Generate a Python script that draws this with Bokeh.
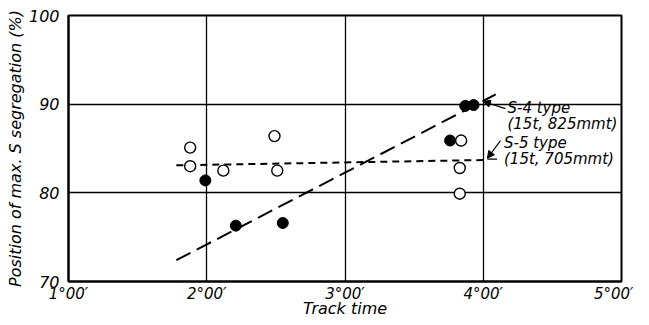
from bokeh.plotting import figure
from bokeh.embed import file_html
from bokeh.resources import INLINE
from bokeh.models import Range1d, FixedTicker, Arrow, NormalHead, Label

# Track time in minutes, position in %
open_x = [1.88, 1.88, 2.12, 2.49, 2.51, 3.84, 3.83, 3.83]
open_y = [85.1, 83.0, 82.5, 86.4, 82.5, 85.9, 82.8, 79.9]
filled_x = [1.99, 2.21, 2.55, 3.76, 3.87, 3.93]
filled_y = [81.4, 76.3, 76.6, 85.9, 89.8, 89.9]

s4_x = [1.78, 4.09]
s4_y = [72.4, 91.1]
s5_x = [1.78, 4.0]
s5_y = [83.1, 83.7]

x_ticks = [1, 2, 3, 4, 5]
x_tick_labels = ["1°00′", "2°00′", "3°00′", "4°00′", "5°00′"]
y_ticks = [70, 80, 90, 100]

FONT = "DejaVu Sans"

p = figure(width=633, height=320, output_backend="svg", toolbar_location=None,
           x_range=Range1d(1, 5), y_range=Range1d(70, 100),
           min_border_left=68, min_border_right=12, min_border_top=15, min_border_bottom=30)
p.background_fill_color = "white"
p.border_fill_color = "white"
p.outline_line_color = "black"
p.outline_line_width = 2

p.xaxis.ticker = FixedTicker(ticks=x_ticks)
p.xaxis.major_label_overrides = {t: l for t, l in zip(x_ticks, x_tick_labels)}
p.yaxis.ticker = FixedTicker(ticks=y_ticks)
for ax in (p.xaxis[0], p.yaxis[0]):
    ax.axis_line_color = "black"
    ax.axis_line_width = 2
    ax.major_tick_line_color = None
    ax.minor_tick_line_color = None
    ax.major_label_text_font = FONT
    ax.major_label_text_font_style = "italic"
    ax.major_label_text_font_size = "16px"
    ax.major_label_text_color = "black"
    ax.axis_label_text_font = FONT
    ax.axis_label_text_font_style = "italic"
    ax.axis_label_text_font_size = "16px"
    ax.axis_label_text_color = "black"
p.xaxis.axis_label = "Track time"
p.yaxis.axis_label = "Position of max. S segregation (%)"
p.yaxis.axis_label_text_font_size = "16px"
p.xaxis.major_label_text_font_size = "15px"
p.xaxis.major_label_standoff = -3
p.xaxis.axis_label_standoff = -7
p.yaxis.major_label_standoff = 3
p.yaxis.axis_label_standoff = 1

p.xgrid.ticker = FixedTicker(ticks=[2, 3, 4])
p.ygrid.ticker = FixedTicker(ticks=[80, 90])
p.grid.grid_line_color = "black"
p.grid.grid_line_width = 1.3

p.line(s4_x, s4_y, line_color="black", line_width=2, line_dash="16 7")
p.line(s5_x, s5_y, line_color="black", line_width=2, line_dash="7 5")

p.scatter(open_x, open_y, size=11, fill_color="white", line_color="black", line_width=1.4)
p.scatter(filled_x, filled_y, size=11, fill_color="black", line_color="black")

# annotations
p.add_layout(Arrow(end=NormalHead(size=7, fill_color="black", line_color="black"),
                   x_start=4.16, y_start=89.5, x_end=4.0, y_end=90.3,
                   line_color="black", line_width=1.2))
p.add_layout(Arrow(end=NormalHead(size=7, fill_color="black", line_color="black"),
                   x_start=4.125, y_start=85.9, x_end=4.03, y_end=83.9,
                   line_color="black", line_width=1.2))
p.segment(x0=[4.03], y0=[83.8], x1=[4.10], y1=[83.8], line_color="black", line_width=1.2)

lbl = dict(text_font=FONT, text_font_style="italic", text_font_size="15px",
           text_color="black", text_baseline="middle")
p.add_layout(Label(x=4.175, y=89.6, text="S-4  type", **lbl))
p.add_layout(Label(x=4.175, y=87.8, text="(15t, 825mmt)", **lbl))
p.add_layout(Label(x=4.15, y=85.6, text="S-5 type", **lbl))
p.add_layout(Label(x=4.15, y=83.8, text="(15t, 705mmt)", **lbl))

open("out.html", "w").write(file_html(p, INLINE))
